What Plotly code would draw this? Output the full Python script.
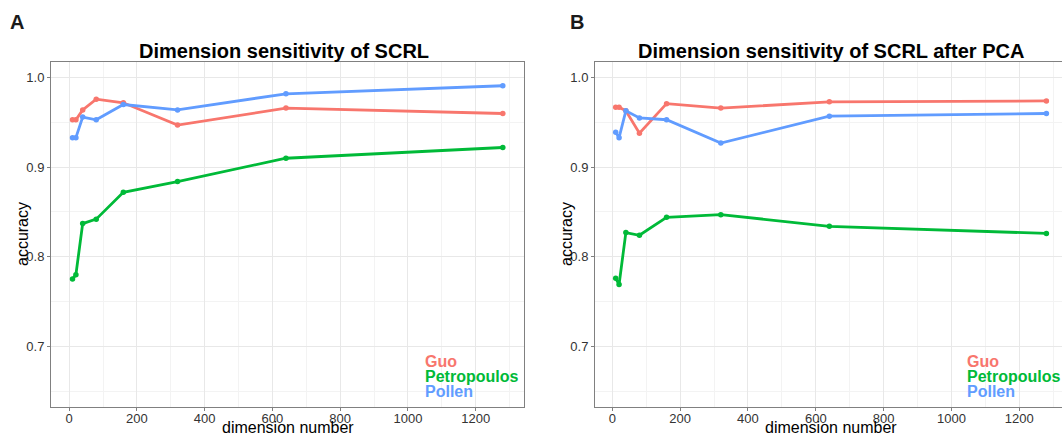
import plotly.graph_objects as go

# ---- data ----
dims = [10, 20, 40, 80, 160, 320, 640, 1280]
series_names = ["Guo", "Petropoulos", "Pollen"]
series_colors = ["#F8766D", "#00BA38", "#619CFF"]

a_guo = [0.953, 0.953, 0.964, 0.976, 0.972, 0.947, 0.966, 0.960]
a_petropoulos = [0.775, 0.780, 0.837, 0.842, 0.872, 0.884, 0.910, 0.922]
a_pollen = [0.933, 0.933, 0.956, 0.953, 0.970, 0.964, 0.982, 0.991]

b_guo = [0.967, 0.967, 0.963, 0.938, 0.971, 0.966, 0.973, 0.974]
b_petropoulos = [0.776, 0.769, 0.827, 0.824, 0.844, 0.847, 0.834, 0.826]
b_pollen = [0.939, 0.933, 0.963, 0.955, 0.953, 0.927, 0.957, 0.960]

panel_titles = ["Dimension sensitivity of SCRL", "Dimension sensitivity of SCRL after PCA"]
panel_letters = ["A", "B"]
x_title = "dimension number"
y_title = "accuracy"
x_ticks = [0, 200, 400, 600, 800, 1000, 1200]
y_ticks = [0.7, 0.8, 0.9, 1.0]
y_ticktext = ["0.7", "0.8", "0.9", "1.0"]

OFF = 0
W, H = 1062, 436
FONT = "Liberation Sans, Arial, sans-serif"

fig = go.Figure()

panels = [
    ("x", "y", [a_guo, a_petropoulos, a_pollen]),
    ("x2", "y2", [b_guo, b_petropoulos, b_pollen]),
]
for xa, ya, vals in panels:
    for name, color, v in zip(series_names, series_colors, vals):
        fig.add_trace(go.Scatter(
            x=dims, y=v, mode="lines+markers", name=name, showlegend=False,
            line=dict(color=color, width=2.8), marker=dict(color=color, size=5.5),
            xaxis=xa, yaxis=ya, cliponaxis=False,
        ))

def px_x(p):
    return (p - OFF) / W

def px_y(p):
    return 1 - (p - OFF) / H

ydom = [px_y(406.7), px_y(62)]
common_x = dict(
    tickvals=x_ticks, ticks="outside", ticklen=3, tickcolor="#808080",
    tickfont=dict(family=FONT, size=13, color="#333333"),
    ticklabelstandoff=-3,
    showgrid=True, gridcolor="#E8E8E8", gridwidth=1,
    minor=dict(showgrid=True, gridcolor="#F3F3F3", gridwidth=1, dtick=100),
    showline=True, linecolor="#808080", linewidth=1,
    zeroline=False,
)
common_y = dict(
    tickvals=y_ticks, ticktext=y_ticktext, ticks="outside", ticklen=3, tickcolor="#808080",
    tickfont=dict(family=FONT, size=13, color="#333333"),
    showgrid=True, gridcolor="#E8E8E8", gridwidth=1,
    minor=dict(showgrid=True, gridcolor="#F3F3F3", gridwidth=1, tickvals=[0.65, 0.75, 0.85, 0.95]),
    showline=True, linecolor="#808080", linewidth=1,
    zeroline=False, range=[0.6325, 1.0175],
)

fig.update_layout(
    width=W, height=H, margin=dict(l=0, r=0, t=0, b=0),
    paper_bgcolor="white", plot_bgcolor="white",
    font=dict(family=FONT),
    xaxis=dict(common_x, domain=[px_x(51), px_x(524.3)], range=[-53.5, 1343.5],
               anchor="y", mirror=True),
    yaxis=dict(common_y, domain=ydom, anchor="x", mirror=True),
    xaxis2=dict(common_x, domain=[px_x(595), 1.0], range=[-51, 1326],
                anchor="y2", mirror=True),
    yaxis2=dict(common_y, domain=ydom, anchor="x2", mirror=False),
)

annotations = []
# panel letters
for letter, xpx in zip(panel_letters, [17, 577]):
    annotations.append(dict(text="<b>%s</b>" % letter, x=px_x(xpx), y=px_y(22),
                            xref="paper", yref="paper", showarrow=False,
                            xanchor="center", yanchor="middle",
                            font=dict(family=FONT, size=20, color="#1a1a1a")))
# titles
for title, xpx in zip(panel_titles, [283.5, 830.5]):
    annotations.append(dict(text="<b>%s</b>" % title, x=px_x(xpx), y=px_y(50.5),
                            xref="paper", yref="paper", showarrow=False,
                            xanchor="center", yanchor="middle",
                            font=dict(family=FONT, size=20, color="black")))
# axis titles
for xpx in [288, 831]:
    annotations.append(dict(text=x_title, x=px_x(xpx), y=px_y(427),
                            xref="paper", yref="paper", showarrow=False,
                            xanchor="center", yanchor="middle",
                            font=dict(family=FONT, size=16, color="black")))
for xpx in [22, 566]:
    annotations.append(dict(text=y_title, x=px_x(xpx), y=px_y(234),
                            xref="paper", yref="paper", showarrow=False,
                            xanchor="center", yanchor="middle", textangle=-90,
                            font=dict(family=FONT, size=16, color="black")))
# legends (text only, coloured)
for xpx in [422.5, 965]:
    for i, (name, color) in enumerate(zip(series_names, series_colors)):
        annotations.append(dict(text="<b>%s</b>" % name, x=px_x(xpx), y=px_y(361.7 + 15 * i),
                                xref="paper", yref="paper", showarrow=False,
                                xanchor="left", yanchor="middle",
                                font=dict(family=FONT, size=16, color=color)))

fig.update_layout(annotations=annotations)
fig.write_html(
    "out.html",
    config={"displayModeBar": False},
    post_script="document.body.style.margin='0';document.body.style.overflow='hidden';",
)
